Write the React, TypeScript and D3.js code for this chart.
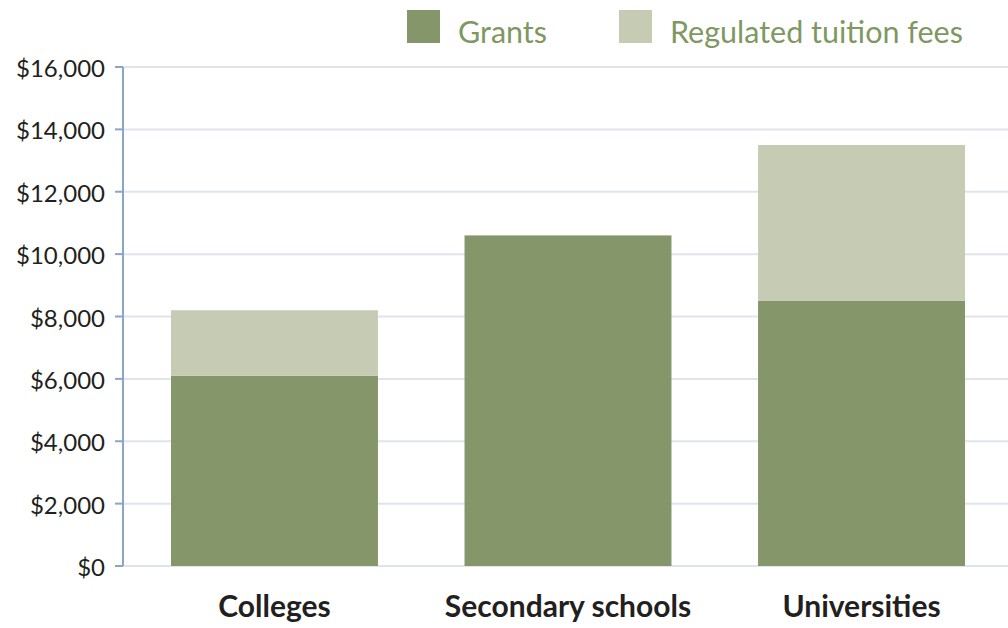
import React from 'react';
import * as d3 from 'd3';

const categories = ['Colleges', 'Secondary schools', 'Universities'];
const grants = [6100, 10600, 8500];
const tuitionFees = [2100, 0, 5000];
const seriesNames = ['Grants', 'Regulated tuition fees'];
const yTicks = [0, 2000, 4000, 6000, 8000, 10000, 12000, 14000, 16000];

const WIDTH = 1008;
const HEIGHT = 628;
const COLORS = ['#84966a', '#c6cbb4'];
const FONT = 'Lato, "Open Sans", sans-serif';

export default function App() {
  const rows = categories.map((c, i) => ({ category: c, grants: grants[i], fees: tuitionFees[i] }));
  const stacked = d3.stack<any>().keys(['grants', 'fees'])(rows);

  const x = d3
    .scaleBand()
    .domain(categories)
    .range([123, 1013])
    .paddingInner(0.295)
    .paddingOuter(0.1635);

  const y = d3.scaleLinear().domain([0, 16000]).range([566, 67]);
  const fmt = (v: number) => '$' + d3.format(',')(v);

  return (
    <div style={{ position: 'absolute', left: 0, top: 0 }}>
      <svg width={WIDTH} height={HEIGHT} style={{ display: 'block', background: '#fff' }}>
        {/* gridlines */}
        {yTicks.map((t) => (
          <line key={'g' + t} x1={123} x2={WIDTH} y1={y(t)} y2={y(t)} stroke="#dfe4ee" strokeWidth={2} />
        ))}

        {/* bars */}
        {stacked.map((layer, li) => (
          <g key={layer.key} fill={COLORS[li]}>
            {layer.map((d, i) =>
              d[1] - d[0] > 0 ? (
                <rect
                  key={i}
                  x={x(categories[i])}
                  width={x.bandwidth()}
                  y={y(d[1])}
                  height={y(d[0]) - y(d[1])}
                />
              ) : null
            )}
          </g>
        ))}

        {/* y axis */}
        <line x1={123} x2={123} y1={y(16000)} y2={y(0)} stroke="#8ca4c6" strokeWidth={2} />
        {yTicks.map((t) => (
          <g key={'t' + t} transform={`translate(0,${y(t)})`}>
            <line x1={115} x2={123} stroke="#8ca4c6" strokeWidth={2} />
            <text x={105} dy={10} textAnchor="end" fontFamily={FONT} fontSize={24} fill="#231f20">
              {fmt(t)}
            </text>
          </g>
        ))}

        {/* category labels */}
        {categories.map((c) => (
          <text
            key={c}
            x={(x(c) as number) + x.bandwidth() / 2}
            y={617}
            textAnchor="middle"
            fontFamily={FONT}
            fontWeight="bold"
            fontSize={30}
            fill="#231f20"
          >
            {c}
          </text>
        ))}

        {/* legend */}
        {seriesNames.map((name, i) => {
          const lx = [407, 619][i];
          return (
            <g key={name}>
              <rect x={lx} y={10} width={33} height={33} fill={COLORS[i]} />
              <text x={lx + 51} y={43} fontFamily={FONT} fontSize={30.5} fill="#7f9862">
                {name}
              </text>
            </g>
          );
        })}
      </svg>
    </div>
  );
}
